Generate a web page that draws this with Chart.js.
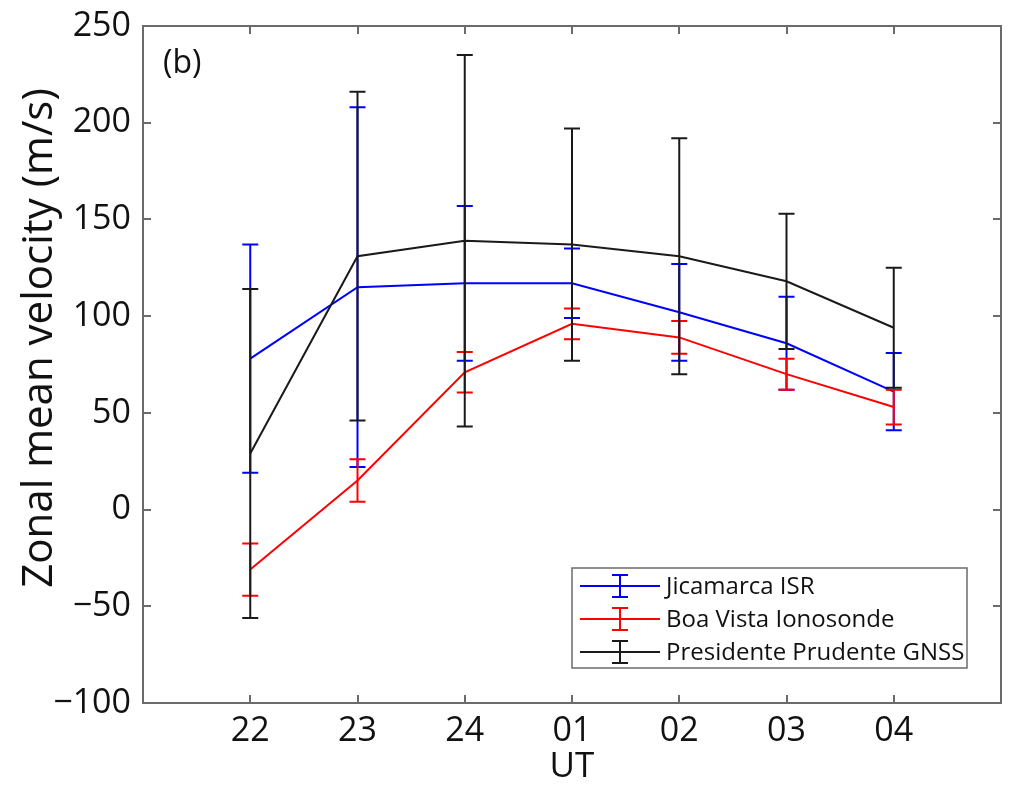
<!DOCTYPE html>
<html>
<head>
<meta charset="utf-8">
<script src="https://cdn.jsdelivr.net/npm/chart.js@4"></script>
<style>
  html, body { margin: 0; padding: 0; background: #fff; }
  #wrap { width: 1010px; height: 788px; position: relative; }
</style>
</head>
<body>
<div id="wrap"><canvas id="chart"></canvas></div>
<script>
"use strict";

// UT hours on the x axis
const categories = ["22", "23", "24", "01", "02", "03", "04"]
const yTicks = [-100, -50, 0, 50, 100, 150, 200, 250]

// zonal mean velocity (m/s) and error half-widths
const jicamarca = [78, 115, 117, 117, 102, 86, 61]
const jicamarcaErr = [59, 93, 40, 18, 25, 24, 20]
const boaVista = [-31, 15, 71, 96, 89, 70, 53]
const boaVistaErr = [13.5, 11, 10.5, 8, 8.5, 8, 9]
const prudente = [29, 131, 139, 137, 131, 118, 94]
const prudenteErr = [85, 85, 96, 60, 61, 35, 31]

const seriesNames = ["Jicamarca ISR", "Boa Vista Ionosonde", "Presidente Prudente GNSS"]
const seriesColors = ["#0000ff", "#ff0000", "#1a1a1a"]
const yTitle = "Zonal mean velocity (m/s)"

const FONT = "'Open Sans', 'Noto Sans', sans-serif"

const toPoints = arr => arr.map((v, i) => ({x: i, y: v}))

const datasets = [
    {label: seriesNames[0], data: toPoints(jicamarca), err: jicamarcaErr, borderColor: seriesColors[0], order: 2},
    {label: seriesNames[1], data: toPoints(boaVista), err: boaVistaErr, borderColor: seriesColors[1], order: 1},
    {label: seriesNames[2], data: toPoints(prudente), err: prudenteErr, borderColor: seriesColors[2], order: 0}
].map(d => Object.assign(d, {borderWidth: 2, pointRadius: 0, tension: 0, fill: false}))

// error bars drawn right after each line, like matlab errorbar()
const errorBars = {
    id: "errorBars",
    afterDatasetDraw(chart, args) {
        const ds = chart.data.datasets[args.index]
        const xs = chart.scales.x, ys = chart.scales.y
        const ctx = chart.ctx
        ctx.save()
        ctx.strokeStyle = ds.borderColor
        ctx.lineWidth = 2
        ds.data.forEach((p, i) => {
            const px = xs.getPixelForValue(p.x)
            const top = ys.getPixelForValue(p.y + ds.err[i])
            const bot = ys.getPixelForValue(p.y - ds.err[i])
            ctx.beginPath()
            ctx.moveTo(px, top); ctx.lineTo(px, bot)
            ctx.moveTo(px - 8, top); ctx.lineTo(px + 8, top)
            ctx.moveTo(px - 8, bot); ctx.lineTo(px + 8, bot)
            ctx.stroke()
        })
        ctx.restore()
    }
}

// box around the axes with inward ticks, y title, panel label and legend
const frame = {
    id: "frame",
    afterDraw(chart) {
        const {left, right, top, bottom} = chart.chartArea
        const xs = chart.scales.x, ys = chart.scales.y
        const ctx = chart.ctx
        ctx.save()
        ctx.strokeStyle = "#6b6b6b"
        ctx.lineWidth = 2
        ctx.strokeRect(left, top, right - left, bottom - top)
        ctx.beginPath()
        yTicks.forEach(v => {
            const py = Math.round(ys.getPixelForValue(v))
            ctx.moveTo(left, py); ctx.lineTo(left + 8, py)
            ctx.moveTo(right, py); ctx.lineTo(right - 8, py)
        })
        categories.forEach((c, i) => {
            const px = Math.round(xs.getPixelForValue(i))
            ctx.moveTo(px, bottom); ctx.lineTo(px, bottom - 8)
            ctx.moveTo(px, top); ctx.lineTo(px, top + 8)
        })
        ctx.stroke()

        ctx.fillStyle = "#111"
        ctx.textBaseline = "middle"

        ctx.save()
        ctx.translate(40, 338)
        ctx.rotate(-Math.PI / 2)
        ctx.textAlign = "center"
        ctx.font = "42px " + FONT
        ctx.fillText(yTitle, 0, 0)
        ctx.restore()

        ctx.font = "32px " + FONT
        ctx.fillText("(b)", left + 20, top + 38)

        // legend
        const lx = 572, ly = 568, lw = 395, lh = 100
        ctx.fillStyle = "#fff"
        ctx.fillRect(lx, ly, lw, lh)
        ctx.strokeStyle = "#6b6b6b"
        ctx.lineWidth = 1.5
        ctx.strokeRect(lx, ly, lw, lh)
        ctx.font = "24px " + FONT
        seriesNames.forEach((name, i) => {
            const cy = ly + 18 + i * 33
            ctx.strokeStyle = seriesColors[i]
            ctx.lineWidth = 2
            ctx.beginPath()
            ctx.moveTo(lx + 8, cy); ctx.lineTo(lx + 88, cy)
            ctx.moveTo(lx + 48, cy - 11); ctx.lineTo(lx + 48, cy + 11)
            ctx.moveTo(lx + 40, cy - 11); ctx.lineTo(lx + 56, cy - 11)
            ctx.moveTo(lx + 40, cy + 11); ctx.lineTo(lx + 56, cy + 11)
            ctx.stroke()
            ctx.fillStyle = "#111"
            ctx.fillText(name, lx + 94, cy + 1)
        })
        ctx.restore()
    }
}

const config = {
    type: "line",
    data: {datasets: datasets},
    plugins: [errorBars, frame],
    options: {
        responsive: true,
        maintainAspectRatio: false,
        animation: false,
        layout: {padding: {top: 26, right: 9, left: 0, bottom: 0}},
        plugins: {legend: {display: false}, tooltip: {enabled: false}},
        scales: {
            x: {
                type: "linear",
                min: -1,
                max: 7,
                afterBuildTicks: s => { s.ticks = categories.map((c, i) => ({value: i})) },
                afterFit: s => { s.height = 85; s.paddingLeft = 0; s.paddingRight = 0 },
                border: {display: false},
                grid: {display: false, drawTicks: false},
                ticks: {
                    callback: v => categories[v],
                    color: "#111",
                    padding: 8,
                    maxRotation: 0,
                    autoSkip: false,
                    font: {family: FONT, size: 34}
                },
                title: {
                    display: true,
                    text: "UT",
                    color: "#111",
                    padding: {top: -8, bottom: 0},
                    font: {family: FONT, size: 35}
                }
            },
            y: {
                type: "linear",
                min: -100,
                max: 250,
                afterBuildTicks: s => { s.ticks = yTicks.map(v => ({value: v})) },
                afterFit: s => { s.width = 143; s.paddingTop = 0; s.paddingBottom = 0 },
                border: {display: false},
                grid: {display: false, drawTicks: false},
                ticks: {
                    callback: v => v < 0 ? "\u2212" + Math.abs(v) : String(v),
                    color: "#111",
                    padding: 12,
                    font: {family: FONT, size: 34}
                }
            }
        }
    }
}

new Chart(document.getElementById("chart"), config)
</script>
</body>
</html>
